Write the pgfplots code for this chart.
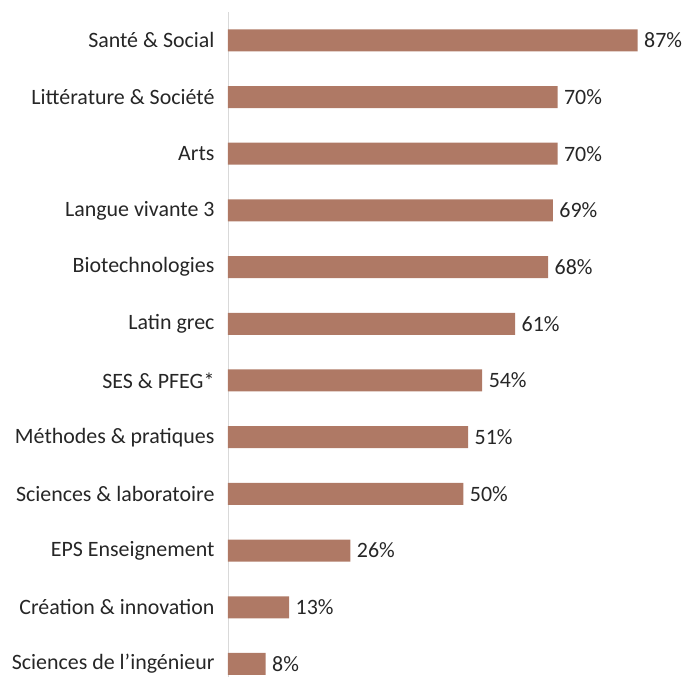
\documentclass[border=0pt]{standalone}
\usepackage{fontspec}
\setmainfont{Carlito}
\usepackage{pgfplots}
\pgfplotsset{compat=1.18}
\definecolor{barbrown}{RGB}{175,121,101}
\definecolor{txt}{RGB}{38,38,38}
\begin{document}
\begin{tikzpicture}
    \begin{axis}
        [
            scale only axis,
            width=452bp,
            height=665bp,
            xbar,
            bar width=22bp,
            xmin=0, xmax=96,
            ymin=-0.23, ymax=11.5,
            axis x line=none,
            axis y line*=left,
            y axis line style={-, draw=black!15, line width=0.8pt},
            ytick=data,
            yticklabels={
                Sciences de l’ingénieur,
                Création \& innovation,
                EPS Enseignement,
                Sciences \& laboratoire,
                Méthodes \& pratiques,
                SES \& PFEG*,
                Latin grec,
                Biotechnologies,
                Langue vivante 3,
                Arts,
                Littérature \& Société,
                Santé \& Social
            },
            major tick length=0pt,
            ytick style={draw=none},
            yticklabel style={
                font=\fontsize{22}{24}\selectfont,
                text=txt,
                xshift=-10bp
            },
            /pgf/number format/assume math mode=true,
            point meta=x,
            nodes near coords={\pgfmathprintnumber\pgfplotspointmeta\%},
            nodes near coords style={
                font=\fontsize{22}{24}\selectfont,
                text=txt,
                anchor=west,
                xshift=3bp
            },
        ]
        \addplot [fill=barbrown, draw=none] coordinates {
            (8,0)
            (13,1)
            (26,2)
            (50,3)
            (51,4)
            (54,5)
            (61,6)
            (68,7)
            (69,8)
            (70,9)
            (70,10)
            (87,11)
        };
    \end{axis}
    \pgfresetboundingbox
    \path (current axis.south west) ++(-228bp,0) rectangle ++(684bp,677bp);
\end{tikzpicture}
\end{document}
